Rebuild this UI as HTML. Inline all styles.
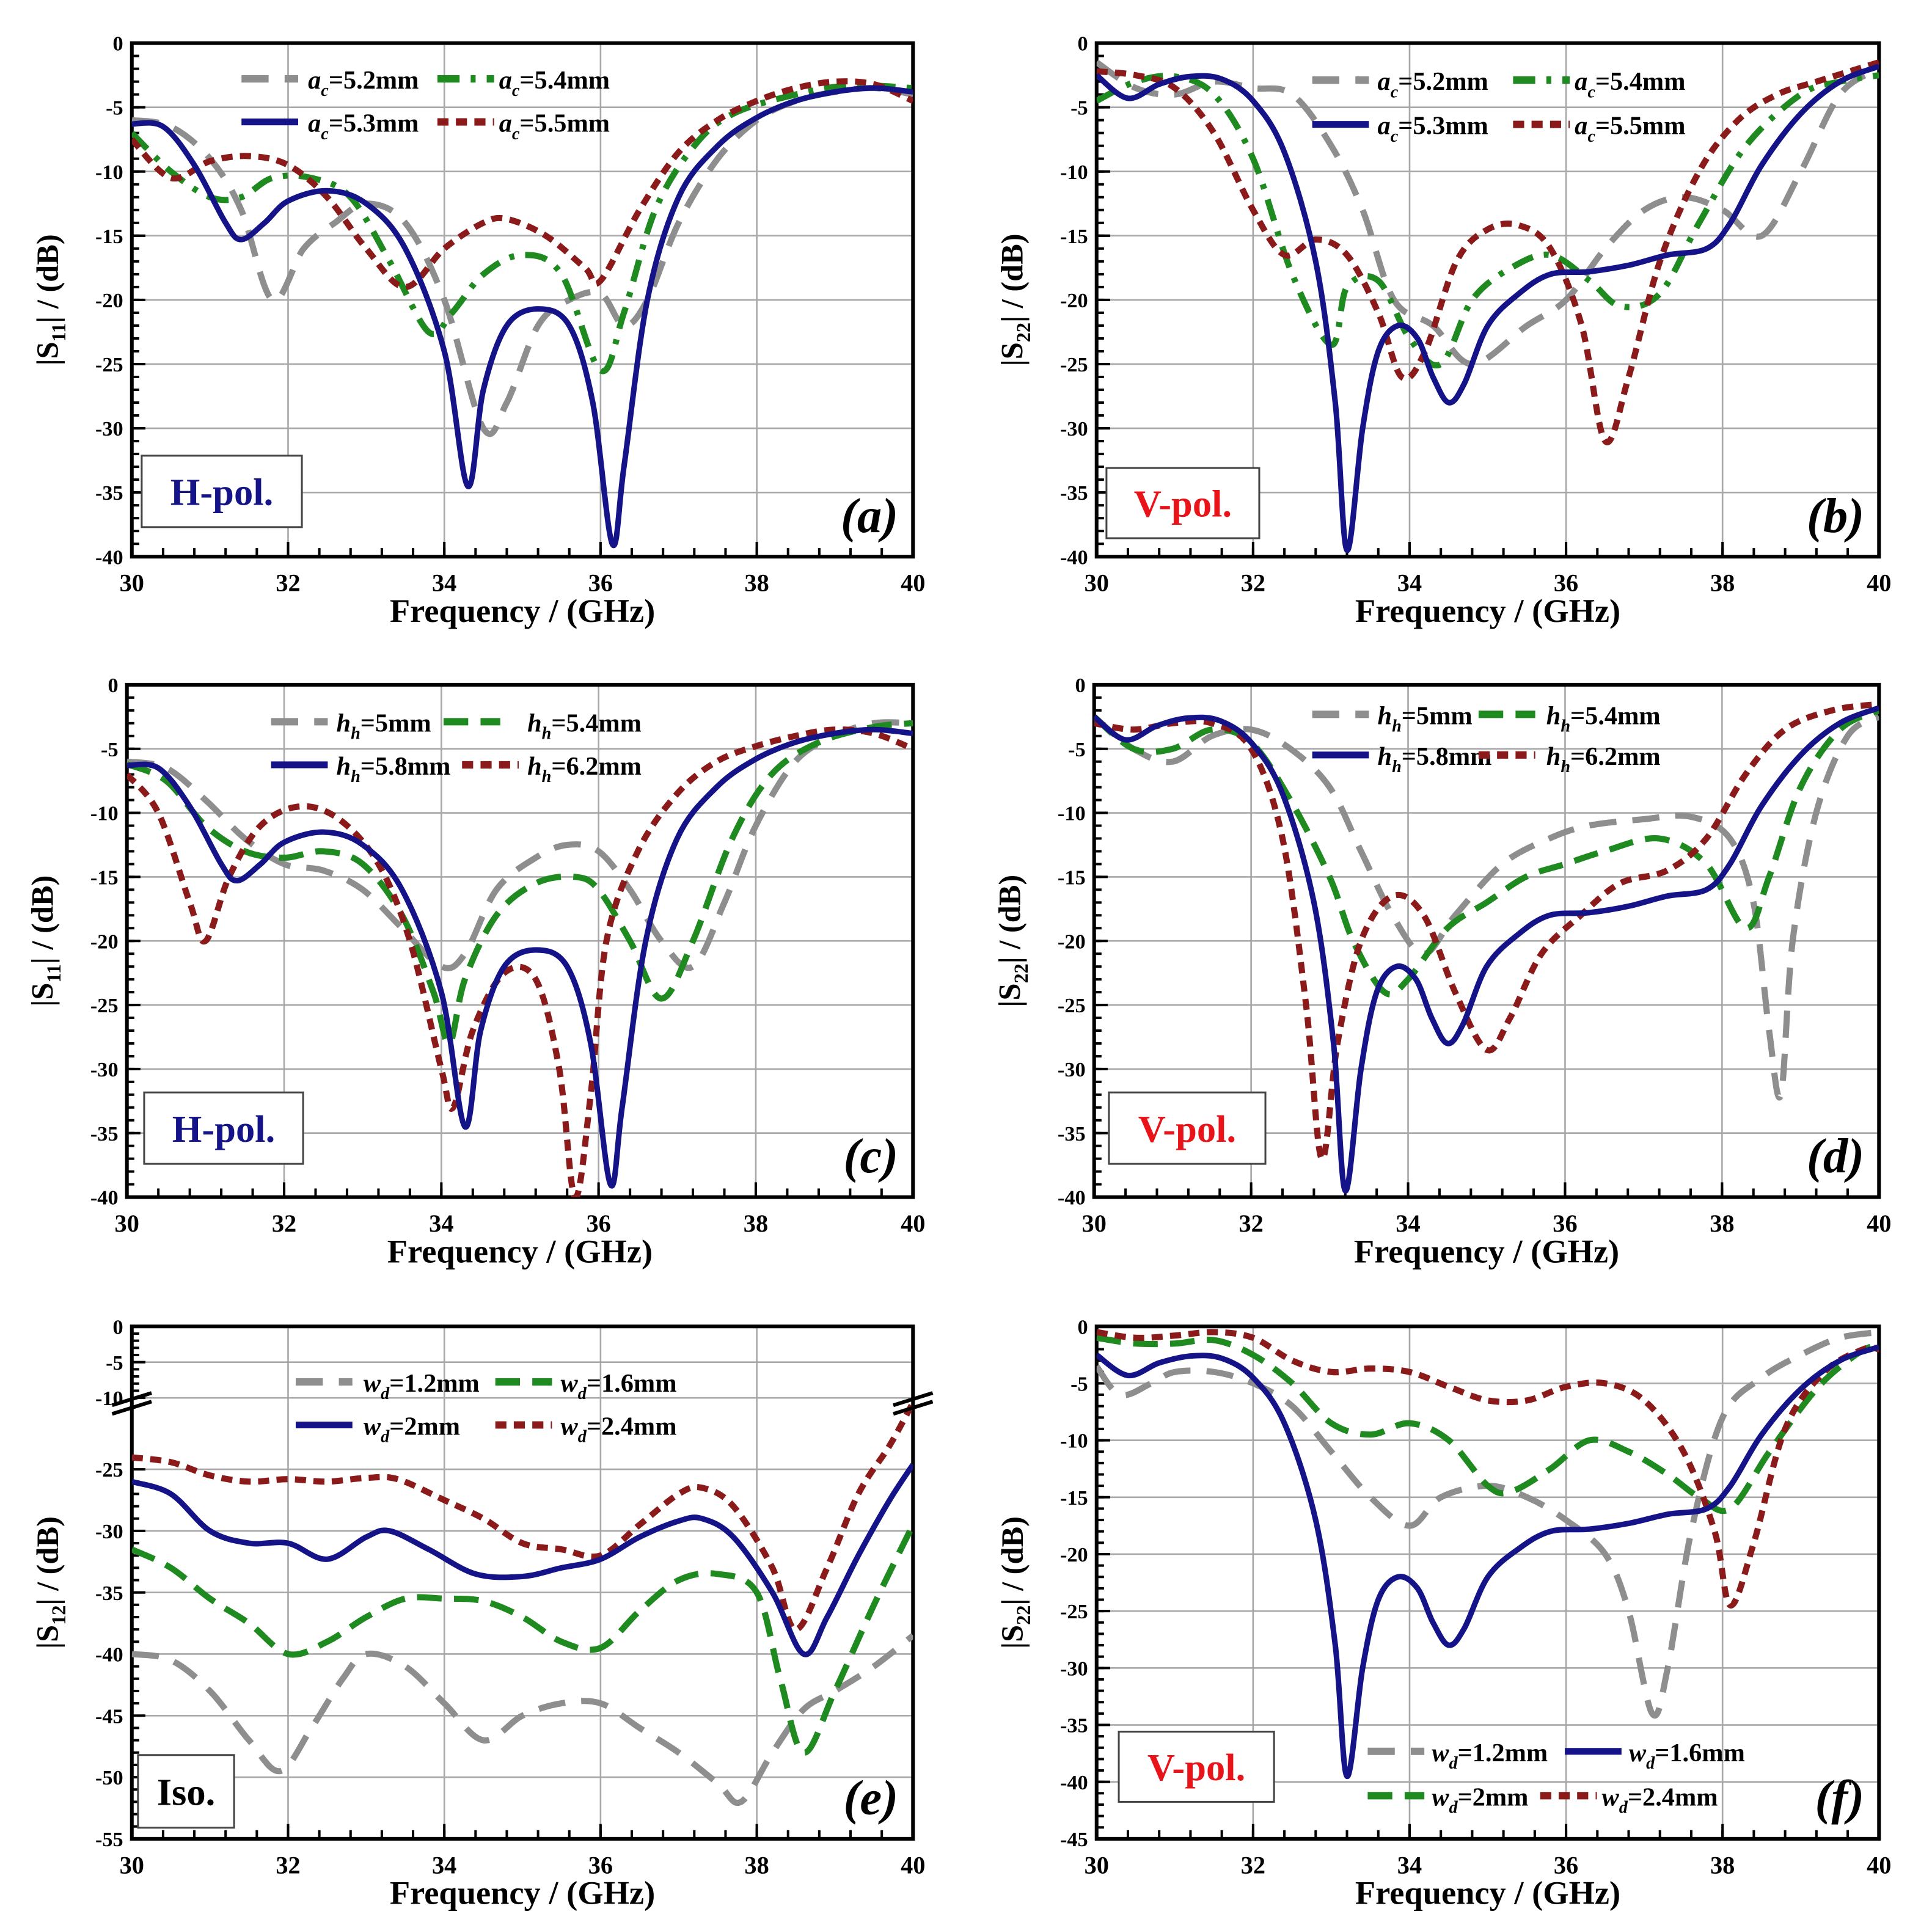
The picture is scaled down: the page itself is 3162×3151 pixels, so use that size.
<!DOCTYPE html>
<html><head><meta charset="utf-8"><style>
html,body{margin:0;padding:0;background:#fff;}
svg{display:block;}
text{font-family:"Liberation Serif",serif;font-weight:bold;}
</style></head><body>
<svg id="fig" xmlns="http://www.w3.org/2000/svg" width="3162" height="3151" viewBox="0 0 1568 1563" preserveAspectRatio="none"></svg>
<script>
// ---------- data (freq in GHz, values in dB) ----------
const aBlueF=[30,30.4,30.8,31.2,31.4,31.7,32,32.5,33,33.5,34,34.3,34.5,34.8,35.2,35.6,35.9,36.15,36.3,36.6,37,37.5,38,38.5,39,39.5,40];
const aBlueV=[-6.3,-6.5,-9.5,-14,-15.3,-14,-12.3,-11.5,-12.5,-16,-24,-34.5,-27,-22,-20.7,-22,-28,-39,-33,-20,-12,-8,-5.8,-4.5,-3.8,-3.5,-3.8];
const aGrayF=[30,30.5,31,31.4,31.8,32.2,32.6,33,33.5,34,34.5,34.8,35.2,35.6,36,36.3,36.6,37,37.5,38,38.5,39,39.5,40];
const aGrayV=[-6,-6.5,-9,-13,-20,-16,-14,-12.5,-14,-20,-30,-28,-22,-20,-19.5,-22,-20,-14,-9,-6,-4.5,-3.8,-3.5,-4];
const aGreenF=[30,30.5,31,31.4,31.8,32.3,32.8,33.3,33.8,34.1,34.5,35,35.5,36,36.3,36.7,37.2,37.7,38.5,39.2,40];
const aGreenV=[-7,-10,-12,-12,-10.5,-10.5,-12,-17,-22.5,-21,-18,-16.5,-18,-25.5,-21,-13,-8,-5.5,-4,-3.3,-3.5];
const aRedF=[30,30.5,31,31.5,32,32.5,33,33.5,34,34.5,34.8,35.3,35.8,36,36.5,37,37.5,38,38.5,39,39.5,40];
const aRedV=[-7.5,-10.5,-9.2,-8.8,-9.5,-12,-16,-19,-16,-14,-13.7,-15,-17.5,-18.5,-13,-8.5,-6,-4.5,-3.5,-3,-3.2,-4.5];

const bBlueF=[30,30.4,30.8,31.2,31.6,32,32.4,32.8,33.05,33.2,33.4,33.6,33.85,34.1,34.3,34.5,34.7,35,35.4,35.8,36.3,36.8,37.3,37.8,38.1,38.5,39,39.5,40];
const bBlueV=[-2.5,-4.3,-3.2,-2.6,-2.8,-4.5,-8.5,-17,-28,-39.5,-30,-24,-22,-23,-26,-28,-26.5,-22,-19.5,-18,-17.8,-17.3,-16.5,-16,-14,-9.5,-5.5,-3,-1.8];
const bGrayF=[30,30.5,31,31.5,32,32.5,33,33.4,33.8,34.3,34.8,35.5,36,36.5,37,37.5,38,38.5,39,39.5,40];
const bGrayV=[-1.5,-3.5,-4,-3,-3.5,-4,-8,-13,-20,-22,-25,-22,-20,-16,-13,-12,-13,-15,-10,-4,-2];
const bGreenF=[30,30.5,31,31.5,32,32.5,33,33.2,33.6,34,34.4,34.8,35.3,35.8,36.3,36.7,37.2,37.7,38.3,39,39.5,40];
const bGreenV=[-4.5,-3,-2.6,-4,-9,-18,-23.5,-19,-18.5,-23,-25,-20,-17.5,-16.5,-18.5,-20.5,-19.5,-14,-8,-4,-3,-2.5];
const bRedF=[30,30.5,31,31.5,32,32.4,32.8,33.2,33.6,33.9,34.2,34.6,35,35.4,35.8,36.2,36.5,36.8,37.2,37.7,38.2,38.7,39.2,40];
const bRedV=[-2.2,-2.5,-3.5,-7,-13,-16.5,-15.3,-16.5,-21,-26,-24,-17,-14.5,-14.2,-16,-22,-31,-26,-17,-10,-6,-4,-3,-1.5];

const cGrayF=[30,30.5,31,31.5,32,32.5,33,33.5,34,34.3,34.7,35.2,35.6,36,36.4,36.8,37.2,37.6,38,38.5,39,39.5,40];
const cGrayV=[-6,-6.5,-9,-12,-14,-14.5,-16,-19,-22,-21,-16,-13.5,-12.5,-13,-16,-20,-22,-17,-11,-6,-4,-3,-3];
const cGreenF=[30,30.5,31,31.5,32,32.5,33,33.5,33.9,34.1,34.3,34.7,35.2,35.7,36,36.4,36.8,37.2,37.7,38.2,38.8,39.5,40];
const cGreenV=[-6.2,-7.5,-11,-13,-13.5,-13,-14,-18,-24,-28,-23,-18,-15.5,-15,-16,-20,-24.5,-20,-12,-7,-4.5,-3.3,-3];
const cRedF=[30,30.4,30.8,31,31.3,31.7,32.2,32.7,33.2,33.6,34,34.15,34.4,34.8,35.2,35.5,35.7,35.9,36.1,36.5,37,37.5,38,38.5,39,39.5,40];
const cRedV=[-7,-10,-17,-20,-15,-11,-9.5,-10.5,-14,-20,-30,-33,-27,-22.5,-23,-30,-40,-32,-20,-13,-8.5,-6,-4.8,-4,-3.5,-3.8,-5];

const dGrayF=[30,30.5,31,31.5,32,32.5,33,33.4,33.8,34.2,34.6,35.2,35.8,36.3,37,37.6,38.1,38.4,38.6,38.75,38.9,39.2,39.6,40];
const dGrayV=[-2.5,-5,-6,-4,-3.5,-5,-8,-13,-18,-21,-18,-14,-12,-11,-10.5,-10.3,-12,-17,-27,-32,-20,-10,-4,-2.5];
const dGreenF=[30,30.5,31,31.5,32,32.5,33,33.3,33.7,34,34.5,35,35.5,36,36.5,37.2,37.8,38.3,38.6,39,39.5,40];
const dGreenV=[-2.5,-5,-5,-3.5,-4.5,-9,-15,-20,-24,-23,-19,-17,-15,-14,-13,-12,-14,-19,-15,-8,-3.5,-2];
const dRedF=[30,30.5,31,31.5,32,32.4,32.7,32.9,33.1,33.4,33.8,34.2,34.6,35,35.3,35.7,36.2,36.7,37.3,37.8,38.3,38.8,39.4,40];
const dRedV=[-3,-3.5,-3,-3,-5,-12,-25,-37,-28,-20,-16.5,-18,-24,-28.5,-26,-21,-18,-15.5,-14.5,-12,-7,-3.5,-2,-1.5];

const eBlueF=[30,30.5,31,31.5,32,32.5,33,33.3,33.8,34.4,35,35.5,36,36.5,37,37.3,37.7,38.2,38.6,38.9,39.3,39.7,40];
const eBlueV=[-26,-27,-30,-31,-31,-32.3,-30.5,-30,-31.5,-33.5,-33.7,-33,-32.3,-30.5,-29.2,-29,-30.5,-35,-40,-37,-32,-27.5,-24];
const eRedF=[30,30.5,31,31.5,32,32.5,33,33.4,34,34.5,35,35.5,36,36.5,37,37.3,37.7,38.2,38.5,38.9,39.3,39.7,40];
const eRedV=[-22.5,-23.5,-25.5,-26,-25.8,-26,-25.7,-25.8,-27.5,-29,-31,-31.5,-32,-29.5,-27,-26.5,-28,-33,-38,-33,-27,-20,-11];
const eGreenF=[30,30.5,31,31.5,32,32.5,33,33.5,34,34.5,35,35.5,36,36.5,37,37.5,38,38.3,38.6,39,39.5,40];
const eGreenV=[-31.5,-33,-35.5,-37.5,-40,-39,-37,-35.5,-35.5,-35.7,-37,-39,-39.5,-36.5,-34,-33.5,-35,-42,-48,-43,-36,-29.5];
const eGrayF=[30,30.5,31,31.5,31.9,32.3,32.7,33,33.5,34,34.5,35,35.5,36,36.5,37,37.5,37.8,38.2,38.6,39,39.5,40];
const eGrayV=[-40,-40.5,-43,-47,-49.5,-46,-42,-40,-41,-44,-47,-45,-44,-44,-46,-48,-50.5,-52,-48,-44.5,-43,-41,-38.5];

const fGrayF=[30,30.3,30.7,31,31.5,32,32.5,33,33.5,34,34.4,35,35.5,36,36.5,36.8,37.1,37.3,37.6,38,38.5,39,39.5,40];
const fGrayV=[-3.5,-6,-5,-4,-4,-5,-7,-11,-15,-17.5,-15,-14,-15,-17,-20,-25,-34,-30,-18,-8,-4.5,-2.5,-1,-0.5];
const fGreenF=[30,30.5,31,31.5,32,32.5,33,33.5,34,34.5,35,35.3,35.8,36.3,36.8,37.3,37.7,38.1,38.6,39.2,39.7,40];
const fGreenV=[-1,-1.5,-1.5,-1.2,-2.5,-5,-8.5,-9.5,-8.5,-10,-14,-14.5,-12.5,-10,-11,-13,-15,-16,-11,-5.5,-2.5,-1.5];
const fRedF=[30,30.5,31,31.5,32,32.5,33,33.5,34,34.5,35,35.5,36,36.5,37,37.5,37.9,38.1,38.4,38.8,39.3,39.8,40];
const fRedV=[-0.5,-1,-0.8,-0.5,-1,-3,-4,-3.7,-4,-5.3,-6.5,-6.5,-5.3,-5,-6.5,-11,-18,-24.5,-19,-9,-4,-2,-2];

const xTicks=[30,32,34,36,38,40];
const yTicks40=[0,-5,-10,-15,-20,-25,-30,-35,-40];
const yTicksE=[0,-5,-10,-25,-30,-35,-40,-45,-50,-55];
const yTicks45=[0,-5,-10,-15,-20,-25,-30,-35,-40,-45];

// ---------- drawing ----------
const NS="http://www.w3.org/2000/svg";
const svg=document.getElementById('fig');
function el(tag,attrs,parent){const e=document.createElementNS(NS,tag);for(const k in attrs)e.setAttribute(k,attrs[k]);(parent||svg).appendChild(e);return e;}
const STY={
 gray:{stroke:'#8e8e8e',w:5,dash:'22 13'},
 green:{stroke:'#1f8a1f',w:5,dash:'20 10'},
 greendd:{stroke:'#1f8a1f',w:5,dash:'18 9 4 9'},
 red:{stroke:'#8b1a1a',w:5,dash:'9 6'},
 blue:{stroke:'#141488',w:4.5,dash:''}
};
function smoothPath(pts){
 let d='M'+pts[0][0].toFixed(1)+','+pts[0][1].toFixed(1);
 for(let i=0;i<pts.length-1;i++){
  const p0=pts[Math.max(0,i-1)],p1=pts[i],p2=pts[i+1],p3=pts[Math.min(pts.length-1,i+2)];
  const c1=[p1[0]+(p2[0]-p0[0])/6,p1[1]+(p2[1]-p0[1])/6];
  const c2=[p2[0]-(p3[0]-p1[0])/6,p2[1]-(p3[1]-p1[1])/6];
  d+='C'+c1[0].toFixed(1)+','+c1[1].toFixed(1)+' '+c2[0].toFixed(1)+','+c2[1].toFixed(1)+' '+p2[0].toFixed(1)+','+p2[1].toFixed(1);
 }
 return d;
}
function panel(cfg){
 const g=el('g',{});
 
 
 const L=cfg.x0,R=cfg.x1,T=cfg.y0,B=cfg.y1;
 const X=f=>L+(f-30)/10*(R-L);
 const Y=cfg.Y;
 const clipId='clip'+cfg.id;
 const cp=el('clipPath',{id:clipId},g);el('rect',{x:L,y:T,width:R-L,height:B-T},cp);
 // grid
 const grid=el('g',{stroke:'#a8a8a8','stroke-width':1.3},g);
 
 
 xTicks.forEach(t=>{el('line',{x1:X(t),x2:X(t),y1:T,y2:B},grid);});
 cfg.yt.forEach(t=>{el('line',{x1:L,x2:R,y1:Y(t),y2:Y(t)},grid);});
 // minor ticks x
 const tk=el('g',{stroke:'#000','stroke-width':2},g);
 for(let f=30;f<=40.001;f+=0.4){el('line',{x1:X(f),x2:X(f),y1:B,y2:B-7},tk);}
 for(let f=30;f<=40.001;f+=2){el('line',{x1:X(f),x2:X(f),y1:B,y2:B-12},tk);}
 // y ticks
 cfg.yminor.forEach(v=>{el('line',{x1:L,x2:L+6,y1:Y(v),y2:Y(v)},tk);});
 cfg.yt.forEach(v=>{el('line',{x1:L,x2:L+11,y1:Y(v),y2:Y(v)},tk);});
 // frame
 const fr=el('rect',{x:L,y:T,width:R-L,height:B-T,fill:'none',stroke:'#000','stroke-width':3},g);
 
 
 // tick labels
 xTicks.forEach(t=>{const tx=el('text',{x:X(t),y:B+28,'text-anchor':'middle','font-size':20},g);tx.textContent=t;
  
  });
 cfg.yt.forEach(t=>{const tx=el('text',{x:L-7,y:Y(t)+6,'text-anchor':'end','font-size':17},g);tx.textContent=t;
  
  });
 // axis titles
 const xt=el('text',{x:(L+R)/2,y:B+53,'text-anchor':'middle','font-size':27},g);xt.textContent='Frequency / (GHz)';
 
 
 const yc=(T+B)/2, yx=L-60;
 const yt=el('text',{x:yx,y:yc,'text-anchor':'middle','font-size':25,transform:'rotate(-90 '+yx+' '+yc+')'},g);
 yt.innerHTML='|S<tspan font-size="16" dy="6">'+cfg.sub+'</tspan><tspan dy="-6">| / (dB)</tspan>';
 
 
 // series
 const sg=el('g',{'clip-path':'url(#'+clipId+')',fill:'none'},g);
 cfg.series.forEach(s=>{
  const st=STY[s.style];
  const pts=s.f.map((f,i)=>[X(f),Y(s.v[i])]);
  const p=el('path',{d:smoothPath(pts),stroke:st.stroke,'stroke-width':st.w,'stroke-dasharray':st.dash,'stroke-linecap':'butt','stroke-linejoin':'round'},sg);
  
  
 });
 // legend
 const lg=el('g',{},g);
 
 
 cfg.legend.forEach(e=>{
  const st=STY[e.style];
  el('line',{x1:e.x,x2:e.x+46,y1:e.y,y2:e.y,stroke:st.stroke,'stroke-width':st.w+1,'stroke-dasharray':st.dash},lg);
  const t=el('text',{x:e.tx,y:e.y+8,'font-size':21},lg);
  t.innerHTML='<tspan font-style="italic">'+cfg.lv+'</tspan><tspan font-size="14" font-style="italic" dy="6">'+cfg.ls+'</tspan><tspan dy="-6">='+e.label+'</tspan>';
  
  
 });
 // pol box
 const b=cfg.box;
 const br=el('rect',{x:b.x,y:b.y,width:b.w,height:b.h,fill:'#fff',stroke:'#444','stroke-width':1.5},g);
 
 
 const bt=el('text',{x:b.x+b.w/2,y:b.y+b.h/2+11,'text-anchor':'middle','font-size':31,fill:b.color},g);bt.textContent=b.text;
 
 
 const pl=el('text',{x:R-12,y:B-20,'text-anchor':'end','font-size':40,'font-style':'italic'},g);pl.textContent='('+cfg.id+')';
 
 
 return {X,Y,g};
}
function lin(T,B,min){return v=>T+(0-v)/(0-min)*(B-T);}
function minors(min,step){const a=[];for(let v=0;v>=min-0.001;v-=step)a.push(v);return a;}

panel({id:'a',x0:107,x1:741,y0:35,y1:452,Y:lin(35,452,-40),yt:yTicks40,yminor:minors(-40,1),sub:'11',lv:'a',ls:'c',
 series:[{name:'ac-5.2',style:'gray',f:aGrayF,v:aGrayV},{name:'ac-5.4',style:'greendd',f:aGreenF,v:aGreenV},{name:'ac-5.5',style:'red',f:aRedF,v:aRedV},{name:'ac-5.3',style:'blue',f:aBlueF,v:aBlueV}],
 legend:[{x:196,y:64,tx:250,style:'gray',label:'5.2mm'},{x:355,y:64,tx:405,style:'greendd',label:'5.4mm'},{x:196,y:99,tx:250,style:'blue',label:'5.3mm'},{x:355,y:99,tx:405,style:'red',label:'5.5mm'}],
 box:{x:115,y:370,w:130,h:58,text:'H-pol.',color:'#141488'}});
panel({id:'b',x0:890,x1:1525,y0:35,y1:452,Y:lin(35,452,-40),yt:yTicks40,yminor:minors(-40,1),sub:'22',lv:'a',ls:'c',
 series:[{name:'ac-5.2',style:'gray',f:bGrayF,v:bGrayV},{name:'ac-5.4',style:'greendd',f:bGreenF,v:bGreenV},{name:'ac-5.5',style:'red',f:bRedF,v:bRedV},{name:'ac-5.3',style:'blue',f:bBlueF,v:bBlueV}],
 legend:[{x:1065,y:65,tx:1118,style:'gray',label:'5.2mm'},{x:1228,y:65,tx:1278,style:'greendd',label:'5.4mm'},{x:1065,y:101,tx:1118,style:'blue',label:'5.3mm'},{x:1228,y:101,tx:1278,style:'red',label:'5.5mm'}],
 box:{x:898,y:380,w:124,h:57,text:'V-pol.',color:'#e8141a'}});
panel({id:'c',x0:103,x1:741,y0:556,y1:972,Y:lin(556,972,-40),yt:yTicks40,yminor:minors(-40,1),sub:'11',lv:'h',ls:'h',
 series:[{name:'hh-5',style:'gray',f:cGrayF,v:cGrayV},{name:'hh-5.4',style:'green',f:cGreenF,v:cGreenV},{name:'hh-6.2',style:'red',f:cRedF,v:cRedV},{name:'hh-5.8',style:'blue',f:aBlueF,v:aBlueV}],
 legend:[{x:220,y:586,tx:273,style:'gray',label:'5mm'},{x:360,y:586,tx:428,style:'green',label:'5.4mm'},{x:220,y:621,tx:273,style:'blue',label:'5.8mm'},{x:375,y:621,tx:428,style:'red',label:'6.2mm'}],
 box:{x:117,y:887,w:129,h:58,text:'H-pol.',color:'#141488'}});
panel({id:'d',x0:888,x1:1525,y0:556,y1:972,Y:lin(556,972,-40),yt:yTicks40,yminor:minors(-40,1),sub:'22',lv:'h',ls:'h',
 series:[{name:'hh-5',style:'gray',f:dGrayF,v:dGrayV},{name:'hh-5.4',style:'green',f:dGreenF,v:dGreenV},{name:'hh-6.2',style:'red',f:dRedF,v:dRedV},{name:'hh-5.8',style:'blue',f:bBlueF,v:bBlueV}],
 legend:[{x:1065,y:580,tx:1118,style:'gray',label:'5mm'},{x:1200,y:580,tx:1255,style:'green',label:'5.4mm'},{x:1065,y:613,tx:1118,style:'blue',label:'5.8mm'},{x:1200,y:613,tx:1255,style:'red',label:'6.2mm'}],
 box:{x:900,y:887,w:127,h:58,text:'V-pol.',color:'#e8141a'}});
// broken axis for (e)
function yE(v){ if(v>=-10) return 1077+(-v)*5.8; if(v>=-25) return 1135+(-10-v)/15*58; return 1193+(-25-v)*10; }
const pe=panel({id:'e',x0:107,x1:741,y0:1077,y1:1493,Y:yE,yt:yTicksE,yminor:[-1,-2,-3,-4,-6,-7,-8,-9,-26,-27,-28,-29,-31,-32,-33,-34,-36,-37,-38,-39,-41,-42,-43,-44,-46,-47,-48,-49,-51,-52,-53,-54],sub:'12',lv:'w',ls:'d',
 series:[{name:'wd-1.2',style:'gray',f:eGrayF,v:eGrayV},{name:'wd-1.6',style:'green',f:eGreenF,v:eGreenV},{name:'wd-2.4',style:'red',f:eRedF,v:eRedV},{name:'wd-2',style:'blue',f:eBlueF,v:eBlueV}],
 legend:[{x:240,y:1122,tx:295,style:'gray',label:'1.2mm'},{x:402,y:1122,tx:455,style:'green',label:'1.6mm'},{x:240,y:1157,tx:295,style:'blue',label:'2mm'},{x:402,y:1157,tx:455,style:'red',label:'2.4mm'}],
 box:{x:112,y:1425,w:78,h:59,text:'Iso.',color:'#000'}});
// break marks
[[107,1138],[741,1138]].forEach(p=>{
 const bk=el('g',{stroke:'#000','stroke-width':3},pe.g);
 
 
 el('line',{x1:p[0]-16,y1:p[1]+3,x2:p[0]+16,y2:p[1]-7},bk);
 el('line',{x1:p[0]-16,y1:p[1]+10,x2:p[0]+16,y2:p[1]},bk);
});
panel({id:'f',x0:890,x1:1525,y0:1077,y1:1493,Y:lin(1077,1493,-45),yt:yTicks45,yminor:minors(-45,1),sub:'22',lv:'w',ls:'d',
 series:[{name:'wd-1.2',style:'gray',f:fGrayF,v:fGrayV},{name:'wd-2',style:'green',f:fGreenF,v:fGreenV},{name:'wd-2.4',style:'red',f:fRedF,v:fRedV},{name:'wd-1.6',style:'blue',f:bBlueF,v:bBlueV}],
 legend:[{x:1110,y:1422,tx:1162,style:'gray',label:'1.2mm'},{x:1270,y:1422,tx:1322,style:'blue',label:'1.6mm'},{x:1110,y:1458,tx:1162,style:'green',label:'2mm'},{x:1250,y:1458,tx:1300,style:'red',label:'2.4mm'}],
 box:{x:908,y:1406,w:126,h:57,text:'V-pol.',color:'#e8141a'}});
</script>
</body></html>
